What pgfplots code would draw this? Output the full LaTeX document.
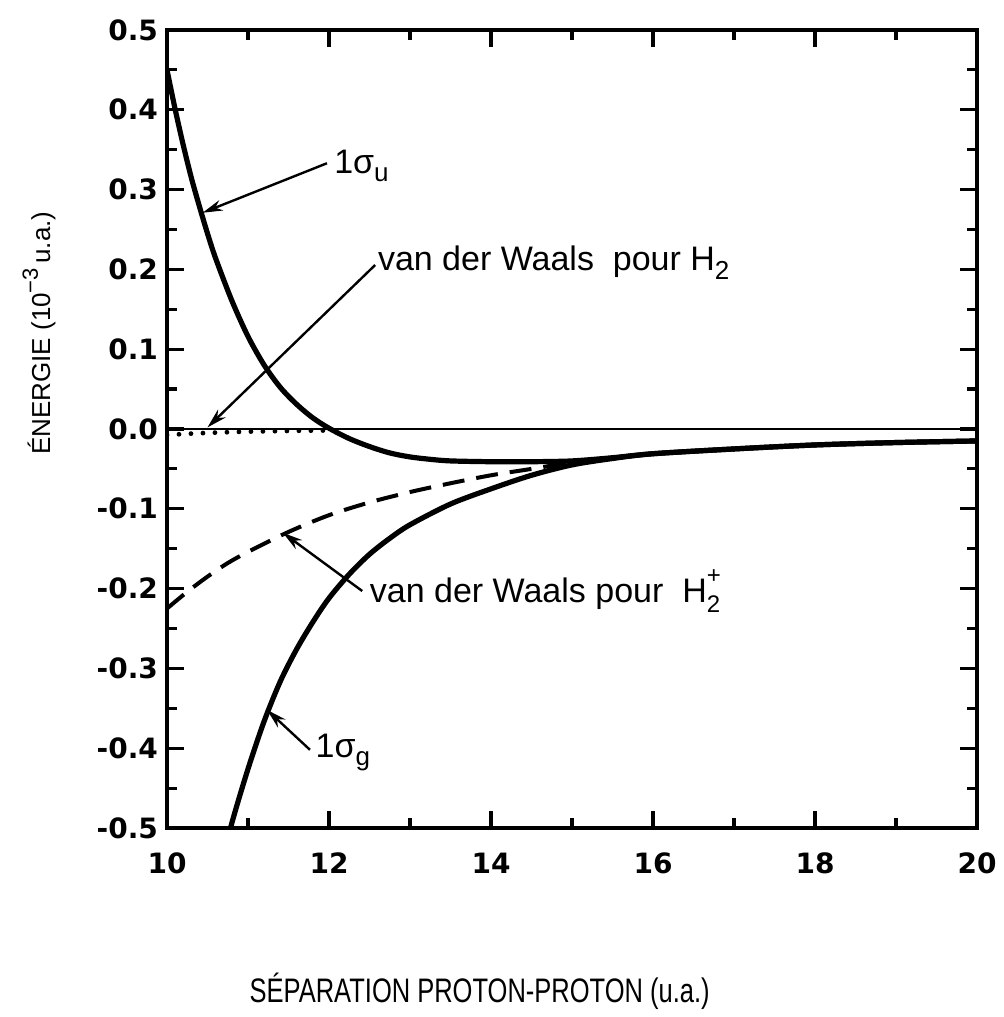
\documentclass[border=0pt]{standalone}
\usepackage{fontspec}
\setmainfont{Liberation Sans}
\newfontfamily\tickfont{DejaVu Sans}
\newfontfamily\xlabfont[FakeStretch=0.75]{Liberation Sans}
\usepackage{pgfplots}
\pgfplotsset{compat=1.18}
\usetikzlibrary{arrows.meta}

\newcommand\lowr[1]{\raisebox{-0.45ex}{\fontsize{13}{13}\selectfont #1}}
\newcommand\subsup[2]{\makebox[0pt][l]{\raisebox{-0.55ex}{\fontsize{12}{12}\selectfont #1}}\raisebox{1.05ex}{\fontsize{12}{12}\selectfont #2}}

\tikzset{
    annot/.style={line width=1.2pt, -{Stealth[length=10pt,width=5.5pt]}},
    lab/.style={font=\fontsize{17}{17}\selectfont, inner sep=0pt},
}

\begin{document}
\begin{tikzpicture}
\begin{axis}[
    scale only axis,
    width=405pt, height=399pt,
    xmin=10, xmax=20, ymin=-0.5, ymax=0.5,
    xtick={10,12,14,16,18,20},
    ytick={-0.5,-0.4,-0.3,-0.2,-0.1,0,0.1,0.2,0.3,0.4,0.5},
    minor x tick num=1, minor y tick num=1,
    tick align=inside,
    major tick length=8.5pt, minor tick length=5pt,
    axis line style={line width=2pt},
    every tick/.style={black, line width=1.6pt},
    /pgf/number format/assume math mode=true,
    ticklabel style={font=\tickfont\bfseries\fontsize{14}{14}\selectfont},
    xticklabel style={yshift=-9pt},
    yticklabel style={xshift=-1pt, /pgf/number format/fixed, /pgf/number format/fixed zerofill, /pgf/number format/precision=1},
    xlabel={\xlabfont\fontsize{17}{17}\selectfont SÉPARATION PROTON-PROTON (u.a.)},
    xlabel style={at={(axis description cs:0.386,-0.204)}, anchor=center},
    ylabel={\fontsize{13}{13}\selectfont ÉNERGIE (10\raisebox{0.9ex}{\fontsize{11}{11}\selectfont −3}\,u.a.)},
    ylabel style={at={(axis description cs:-0.158,0.62)}, anchor=center},
]

% niveau zero
\addplot[black, line width=1.2pt] coordinates {(10,0) (20,0)};

% van der Waals pour H2 (se confond ensuite avec le zero)
\addplot[black, line width=2.4pt, line cap=round, dash pattern=on 0pt off 6pt] coordinates {
(10,-0.0075) (10.25,-0.006) (10.5,-0.0049) (10.75,-0.004) (11,-0.0033) (11.5,-0.0024)
(12,-0.0018)};

% van der Waals pour H2+
\addplot[black, line width=2pt, dash pattern=on 11pt off 6pt, smooth] coordinates {
(10,-0.225) (10.25,-0.204) (10.5,-0.185) (10.75,-0.168) (11,-0.154) (11.5,-0.129)
(12,-0.108) (12.5,-0.092) (13,-0.079) (13.5,-0.068) (14,-0.058) (14.5,-0.050)
(15,-0.042) (15.5,-0.036) (16,-0.031) (17,-0.025) (18,-0.020) (19,-0.017) (20,-0.015)};

% 1 sigma g
\addplot[black, line width=2.6pt, smooth] coordinates {
(10.6,-0.572) (10.8,-0.494) (11,-0.426) (11.2,-0.366) (11.4,-0.316) (11.6,-0.276)
(11.8,-0.242) (12,-0.212) (12.25,-0.182) (12.5,-0.157) (12.75,-0.137) (13,-0.120)
(13.5,-0.094) (14,-0.075) (14.5,-0.058) (15,-0.045) (15.5,-0.037) (16,-0.031)
(17,-0.025) (18,-0.020) (19,-0.017) (20,-0.015)};

% 1 sigma u
\addplot[black, line width=2.6pt, smooth] coordinates {
(10,0.450) (10.1,0.401) (10.2,0.356) (10.3,0.315) (10.4,0.279) (10.5,0.245)
(10.6,0.214) (10.8,0.161) (11,0.116) (11.2,0.080) (11.4,0.052) (11.6,0.031)
(11.8,0.014) (12,0.001) (12.25,-0.012) (12.5,-0.022) (12.75,-0.030) (13,-0.035)
(13.25,-0.038) (13.5,-0.040) (14,-0.041) (14.5,-0.041) (15,-0.040) (15.5,-0.036)
(16,-0.031) (17,-0.025) (18,-0.020) (19,-0.017) (20,-0.015)};

% annotations
\draw[annot] (axis cs:11.975,0.333) -- (axis cs:10.44,0.271);
\node[lab, anchor=west] at (axis cs:12.06,0.330) {1σ\lowr{u}};

\draw[annot] (axis cs:12.57,0.2055) -- (axis cs:10.5,0.002);
\node[lab, anchor=base west] at (axis cs:12.60,0.198) {van der Waals\ \ pour H\lowr{2}};

\draw[annot] (axis cs:12.41,-0.203) -- (axis cs:11.43,-0.130);
\node[lab, anchor=base west] at (axis cs:12.50,-0.217) {van der Waals pour\ \ H\subsup{2}{+}};

\draw[annot] (axis cs:11.765,-0.402) -- (axis cs:11.235,-0.352);
\node[lab, anchor=west] at (axis cs:11.83,-0.405) {1σ\lowr{g}};

\end{axis}
\path (current axis.south west) ++(-83.5pt,-94.5pt) rectangle ([shift={(12.5pt,15pt)}]current axis.north east);
\end{tikzpicture}
\end{document}
